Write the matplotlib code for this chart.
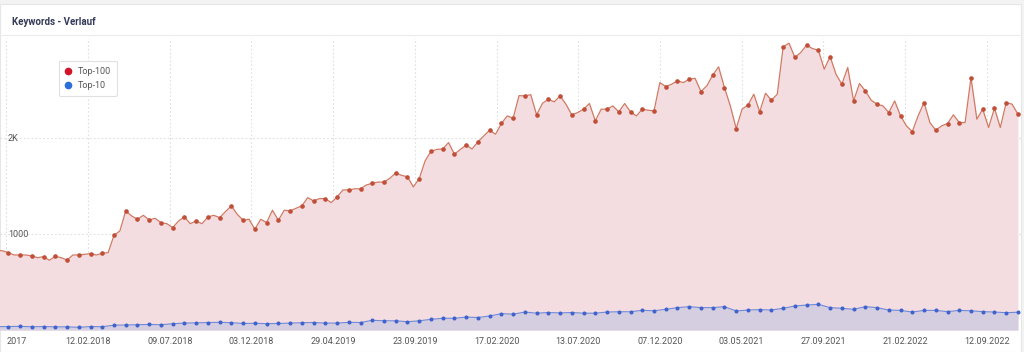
import numpy as np
import matplotlib.pyplot as plt
from matplotlib.lines import Line2D
from matplotlib.patches import Rectangle

plt.rcParams['font.family'] = ['Roboto', 'DejaVu Sans']

# Top-100 keywords, half-step samples starting one step before the first marker
top100 = [830,
    825, 805, 781, 781, 781, 771, 753, 764, 726, 767,
    753, 729, 781, 781, 788, 795, 781, 799, 805, 986,
    1031, 1240, 1188, 1153, 1194, 1146, 1163, 1118, 1107, 1066,
    1135, 1177, 1107, 1135, 1107, 1177, 1194, 1170, 1233, 1292,
    1205, 1142, 1153, 1049, 1153, 1118, 1247, 1142, 1247, 1240,
    1267, 1292, 1378, 1344, 1368, 1368, 1326, 1385, 1458, 1458,
    1470, 1470, 1510, 1528, 1540, 1540, 1580, 1635, 1610, 1595,
    1490, 1576, 1760, 1860, 1880, 1885, 1951, 1830, 1880, 1924,
    1885, 1958, 2020, 2080, 2038, 2150, 2229, 2205, 2440, 2437,
    2450, 2240, 2360, 2403, 2375, 2437, 2350, 2240, 2264, 2299,
    2358, 2177, 2299, 2299, 2333, 2271, 2358, 2271, 2229, 2299,
    2288, 2281, 2576, 2535, 2559, 2594, 2576, 2611, 2620, 2483,
    2542, 2653, 2740, 2524, 2333, 2097, 2299, 2341, 2455, 2271,
    2465, 2392, 2455, 2948, 2986, 2837, 2889, 2965, 2930, 2913,
    2715, 2847, 2663, 2559, 2733, 2385, 2566, 2490, 2392, 2351,
    2333, 2264, 2385, 2229, 2125, 2066, 2230, 2368, 2160, 2080,
    2125, 2149, 2240, 2160, 2160, 2628, 2195, 2299, 2108, 2309,
    2108, 2368, 2351, 2247]

# Top-10 keywords, one sample per marker (first one lies just left of the view)
top10 = [35,
    36, 38, 34, 36, 33, 33, 28, 36, 34, 50, 52, 55, 58, 55, 65, 72, 74, 78, 80, 76,
    68, 70, 66, 68, 72, 76, 78, 72, 72, 80, 78, 101, 96, 96, 86, 96, 111, 122, 122,
    135, 130, 146, 170, 165, 187, 175, 182, 178, 182, 175, 175, 187, 190, 190, 205,
    200, 215, 233, 243, 233, 233, 243, 198, 208, 212, 208, 226, 250, 260, 267, 233,
    226, 215, 243, 233, 208, 204, 187, 204, 204, 191, 204, 200, 191, 187, 180, 185]

date_labels = ['2017', '12.02.2018', '09.07.2018', '03.12.2018', '29.04.2019',
               '23.09.2019', '17.02.2020', '13.07.2020', '07.12.2020',
               '03.05.2021', '27.09.2021', '21.02.2022', '12.09.2022']
y_ticks = [1000, 2000]
y_labels = ['1000', '2K']

x100 = -1 + 0.5 * np.arange(len(top100))
x10 = np.arange(len(top10)) - 1
tick_pos = -0.17 + 6.959 * np.arange(len(date_labels))

W, H = 1024, 352
fig = plt.figure(figsize=(W / 100, H / 100), dpi=100, facecolor='#f3f3f3')
card = Rectangle((0, 0), 1021 / W, 1 - 4 / H, transform=fig.transFigure,
                 facecolor='white', edgecolor='#e6e6e6', lw=0.8, zorder=-10)
fig.add_artist(card)
fig.add_artist(Line2D([0, 1021 / W], [1 - 35 / H] * 2, color='#ececec', lw=0.8,
                      zorder=-5))
fig.text(12 / W, 1 - 22 / H, 'Keywords - Verlauf', fontsize=7, fontweight='bold',
         color='#343a58', va='center')

ax = fig.add_axes([0, 22 / H, 1021 / W, 292 / H])
ax.set_facecolor('none')

red_line, red_dot, red_fill = '#d17a63', '#c04e38', '#f3dde0'
blue_line, blue_dot, blue_fill = '#6f8ad8', '#3f62cc', '#d5cee0'

ax.fill_between(x100, top100, color=red_fill, lw=0, zorder=1)
ax.plot(x100, top100, color=red_line, lw=0.9, marker='o', ms=2.3,
        mfc=red_dot, mec=red_dot, markevery=slice(0, None, 2), zorder=3)
ax.fill_between(x10, top10, color=blue_fill, lw=0, zorder=2)
ax.plot(x10, top10, color=blue_line, lw=0.8, marker='o', ms=1.9,
        mfc=blue_dot, mec=blue_dot, zorder=4)

ax.set_xlim(-0.71, 86.26)
ax.set_ylim(0, 3040)

ax.set_xticks(tick_pos, date_labels)
ax.set_yticks(y_ticks, y_labels)
ax.tick_params(axis='x', length=0, pad=5, labelsize=6.5, labelcolor='#555555')
ax.tick_params(axis='y', length=0, pad=-5.8, labelsize=6.5, labelcolor='#555555')
ax.get_xticklabels()[0].set_ha('left')
for lab in ax.get_yticklabels():
    lab.set_ha('left')
    lab.set_zorder(5)
ax.grid(True, ls=(0, (1.5, 2)), color='#e0e0e0', lw=0.8, zorder=0)
ax.set_axisbelow(True)
for s in ax.spines.values():
    s.set_visible(False)

handles = [Line2D([], [], ls='none', marker='o', ms=4.5, color='#d0142a'),
           Line2D([], [], ls='none', marker='o', ms=4.5, color='#2b6fd8')]
leg = ax.legend(handles, ['Top-100', 'Top-10'], loc='upper left',
                bbox_to_anchor=(54 / W, 1 - 56 / H), bbox_transform=fig.transFigure,
                fontsize=6.5, labelcolor='#555555', handlelength=0.8,
                handletextpad=0.6, borderpad=0.7, labelspacing=0.55,
                frameon=True, fancybox=True, edgecolor='#e0e0e0', framealpha=1)
leg.get_frame().set_linewidth(0.8)

fig.savefig('out.png', dpi=100, facecolor=fig.get_facecolor())
